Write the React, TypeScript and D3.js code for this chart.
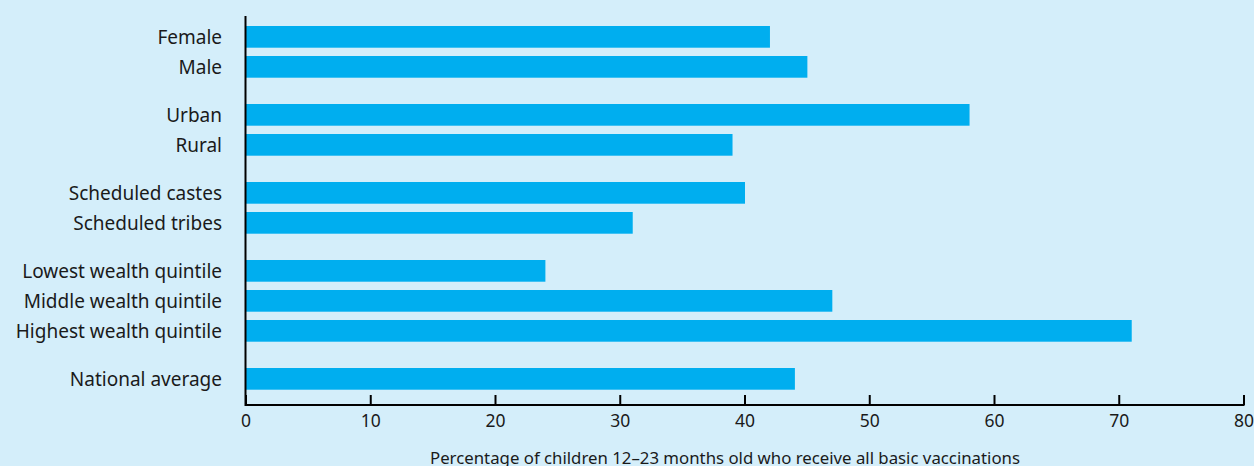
import React from "react";
import * as d3 from "d3";

const categories = [
  "Female",
  "Male",
  "Urban",
  "Rural",
  "Scheduled castes",
  "Scheduled tribes",
  "Lowest wealth quintile",
  "Middle wealth quintile",
  "Highest wealth quintile",
  "National average",
];
const values = [42, 45, 58, 39, 40, 31, 24, 47, 71, 44];
const groupIds = [0, 0, 1, 1, 2, 2, 3, 3, 3, 4];
const xTicks = [0, 10, 20, 30, 40, 50, 60, 70, 80];
const xTitle = "Percentage of children 12\u201323 months old who receive all basic vaccinations";

const W = 1254;
const H = 466;
const BG = "#d4eefa";
const BAR = "#00aeef";
const FONT = "'Noto Sans', 'Open Sans', sans-serif";

export default function App() {
  const x = d3.scaleLinear().domain([0, 80]).range([246, 1244]);
  const slot = categories.map((_, i) => i + groupIds[i] * 0.6);
  const y = d3.scaleLinear().domain([0, 11.4]).range([26, 368]);
  const barH = 21.7;
  const axisY = 405;

  return (
    <svg
      width={W}
      height={H}
      style={{ position: "absolute", left: 0, top: 0, display: "block" }}
    >
      <rect x={0} y={0} width={W} height={H} fill={BG} />
      {categories.map((c, i) => (
        <g key={c}>
          <rect
            x={x(0)}
            y={y(slot[i])}
            width={x(values[i]) - x(0)}
            height={barH}
            fill={BAR}
          />
          <text
            x={222}
            y={y(slot[i]) + barH / 2}
            dy="0.35em"
            textAnchor="end"
            fontFamily={FONT}
            fontSize={19}
            fill="#1a1a1a"
          >
            {c}
          </text>
        </g>
      ))}
      <line x1={245.5} x2={245.5} y1={16} y2={axisY + 1} stroke="#000" strokeWidth={2} />
      <line x1={245} x2={x(80) + 0.5} y1={axisY} y2={axisY} stroke="#000" strokeWidth={2} />
      {xTicks.map((t) => (
        <g key={t}>
          <line
            x1={x(t)}
            x2={x(t)}
            y1={axisY}
            y2={axisY - 10}
            stroke="#000"
            strokeWidth={2}
          />
          <text
            x={x(t)}
            y={421}
            dy="0.35em"
            textAnchor="middle"
            fontFamily={FONT}
            fontSize={17.5}
            fill="#1a1a1a"
          >
            {t}
          </text>
        </g>
      ))}
      <text
        x={725}
        y={458}
        dy="0.35em"
        textAnchor="middle"
        fontFamily={FONT}
        fontSize={16.8}
        fill="#1a1a1a"
      >
        {xTitle}
      </text>
    </svg>
  );
}
